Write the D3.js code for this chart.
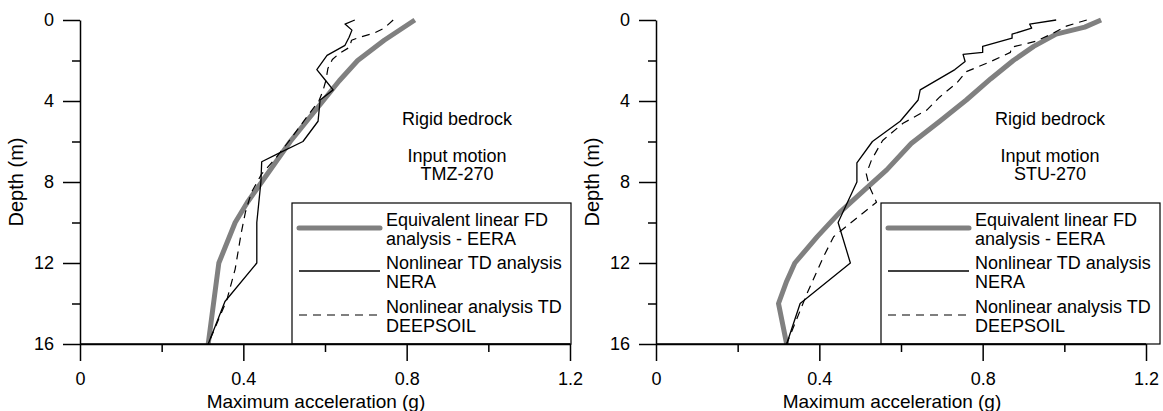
<!DOCTYPE html>
<html>
<head>
<meta charset="utf-8">
<script src="https://cdn.jsdelivr.net/npm/d3@7"></script>
<style>
  html, body { margin: 0; padding: 0; background: #fff; }
  svg { display: block; font-family: "Liberation Sans", Arial, sans-serif; }
</style>
</head>
<body>
<svg id="chart" width="1163" height="411"></svg>
<script>
// Axis ticks
const depthMajor = [0, 4, 8, 12, 16];
const depthMinor = [2, 6, 10, 14];
const accMajor = [0, 0.4, 0.8, 1.2];
const accMinor = [0.2, 0.6, 1.0];

// Text
const xTitle = "Maximum acceleration (g)";
const yTitle = "Depth (m)";
const noteBedrock = "Rigid bedrock";
const noteMotion = "Input motion";
const motions = ["TMZ-270", "STU-270"];
const legendLabels = [
  ["Equivalent linear FD", "analysis - EERA"],
  ["Nonlinear TD analysis", "NERA"],
  ["Nonlinear analysis TD", "DEEPSOIL"]
];

// TMZ-270 profiles: [acceleration (g), depth (m)]
const tmzEERA = [[0.82,0],[0.745,1],[0.68,2],[0.635,3],[0.595,4],[0.555,5],[0.515,6],[0.48,7],[0.445,8],[0.41,9],[0.38,10],[0.36,11],[0.34,12],[0.314,16]];
const tmzNERA = [[0.673,0],[0.649,0.2],[0.666,0.5],[0.659,0.85],[0.649,1.25],[0.605,1.75],[0.58,2.45],[0.60,2.95],[0.62,3.45],[0.588,3.95],[0.583,5.0],[0.546,6.0],[0.485,6.6],[0.445,7.0],[0.443,8.0],[0.433,10.0],[0.433,12.0],[0.355,13.9],[0.314,16]];
const tmzDEEPSOIL = [[0.767,0],[0.745,0.4],[0.72,0.65],[0.685,0.85],[0.665,1.0],[0.66,1.35],[0.635,1.65],[0.618,1.95],[0.607,2.4],[0.602,3.0],[0.595,3.5],[0.585,4.0],[0.555,4.8],[0.515,5.9],[0.48,6.8],[0.445,7.6],[0.42,8.5],[0.405,9.5],[0.395,10.5],[0.38,12.3],[0.36,13.8],[0.314,16]];

// STU-270 profiles: [acceleration (g), depth (m)]
const stuEERA = [[1.09,0],[1.05,0.35],[0.98,0.7],[0.925,1.3],[0.875,2.0],[0.82,2.9],[0.76,3.95],[0.695,5.0],[0.625,6.1],[0.565,7.4],[0.51,8.4],[0.45,9.5],[0.395,10.7],[0.34,12.0],[0.32,12.9],[0.30,14.0],[0.32,16]];
const stuNERA = [[0.98,0],[0.915,0.2],[0.92,0.4],[0.872,0.7],[0.872,0.9],[0.80,1.3],[0.80,1.6],[0.752,1.7],[0.757,2.05],[0.732,2.45],[0.647,3.45],[0.642,3.95],[0.598,5.0],[0.53,6.0],[0.492,7.05],[0.492,8.0],[0.446,10.0],[0.476,12.0],[0.353,14.0],[0.32,16]];
const stuDEEPSOIL = [[1.055,0],[1.005,0.3],[0.973,0.65],[0.93,1.05],[0.87,1.35],[0.868,1.6],[0.82,2.05],[0.76,2.55],[0.737,3.1],[0.695,3.8],[0.663,4.45],[0.605,5.1],[0.555,5.95],[0.528,6.9],[0.515,7.6],[0.522,8.2],[0.54,9.0],[0.435,10.7],[0.41,11.7],[0.37,13.5],[0.32,16]];

const styles = [
  { stroke: "#808080", width: 5, dash: null },
  { stroke: "#000", width: 1.3, dash: null },
  { stroke: "#000", width: 1.2, dash: "8,6" }
];

const panels = [
  { left: 80, series: [tmzEERA, tmzNERA, tmzDEEPSOIL], motion: motions[0], noteX: 377, legendX: 212 },
  { left: 656, series: [stuEERA, stuNERA, stuDEEPSOIL], motion: motions[1], noteX: 394, legendX: 225 }
];

const svg = d3.select("#chart");
const fontSize = 18;
const titleSize = 19;
const plotW = 490, plotTop = 20, plotBottom = 344;

panels.forEach(p => {
  const g = svg.append("g");
  const x = d3.scaleLinear().domain([0, 1.2]).range([p.left, p.left + plotW]);
  const y = d3.scaleLinear().domain([0, 16]).range([plotTop, plotBottom]);

  // profiles
  const line = d3.line().x(d => x(d[0])).y(d => y(d[1]));
  p.series.forEach((s, i) => {
    const st = styles[i];
    g.append("path").datum(s).attr("d", line)
      .attr("fill", "none").attr("stroke", st.stroke)
      .attr("stroke-width", st.width)
      .attr("stroke-linejoin", "round")
      .attr("stroke-dasharray", st.dash);
  });

  // y axis
  const yMinor = g.append("g").attr("transform", `translate(${p.left},0)`)
    .call(d3.axisLeft(y).tickValues(depthMinor).tickSize(8).tickFormat(""));
  const yMajor = g.append("g").attr("transform", `translate(${p.left},0)`)
    .call(d3.axisLeft(y).tickValues(depthMajor).tickSize(17).tickSizeOuter(0).tickPadding(9).tickFormat(d3.format("d")));
  // x axis
  const xMinor = g.append("g").attr("transform", `translate(0,${plotBottom})`)
    .call(d3.axisBottom(x).tickValues(accMinor).tickSize(8).tickFormat(""));
  const xMajor = g.append("g").attr("transform", `translate(0,${plotBottom})`)
    .call(d3.axisBottom(x).tickValues(accMajor).tickSize(17).tickSizeOuter(0).tickPadding(11)
      .tickFormat(d => d === 0 ? "0" : d3.format(".1f")(d)));
  [yMinor, yMajor, xMinor, xMajor].forEach(a => {
    a.select(".domain").attr("stroke-width", 1.5);
    a.selectAll(".tick line").attr("stroke-width", 1.5);
    a.selectAll("text").attr("font-size", fontSize).attr("font-family", "Liberation Sans, Arial, sans-serif").attr("fill", "#000");
  });
  yMinor.select(".domain").remove();
  xMinor.select(".domain").remove();

  // titles
  g.append("text").attr("x", p.left + 236).attr("y", 407.5)
    .attr("text-anchor", "middle").attr("font-size", titleSize).text(xTitle);
  g.append("text").attr("transform", `translate(${p.left - 57},${(plotTop + plotBottom) / 2}) rotate(-90)`)
    .attr("text-anchor", "middle").attr("font-size", 20).text(yTitle);

  // notes
  const cx = p.left + p.noteX;
  g.append("text").attr("x", cx).attr("y", 124.5).attr("text-anchor", "middle").attr("font-size", fontSize).text(noteBedrock);
  g.append("text").attr("x", cx).attr("y", 161.5).attr("text-anchor", "middle").attr("font-size", fontSize).text(noteMotion);
  g.append("text").attr("x", cx).attr("y", 179.5).attr("text-anchor", "middle").attr("font-size", fontSize).text(p.motion);

  // legend
  const lx = p.left + p.legendX;
  const lg = g.append("g");
  lg.append("rect").attr("x", lx).attr("y", 203).attr("width", 279).attr("height", plotBottom - 203)
    .attr("fill", "#fff").attr("stroke", "#000").attr("stroke-width", 1.2);
  const rows = [228, 271, 315];
  legendLabels.forEach((lab, i) => {
    const st = styles[i];
    lg.append("line").attr("x1", lx + 7).attr("x2", lx + 88)
      .attr("y1", rows[i]).attr("y2", rows[i])
      .attr("stroke", st.stroke).attr("stroke-width", st.width)
      .attr("stroke-linecap", i === 0 ? "round" : "butt")
      .attr("stroke-dasharray", st.dash);
    lab.forEach((t, j) => {
      lg.append("text").attr("x", lx + 94).attr("y", rows[i] - 2.5 + j * 19.5)
        .attr("font-size", fontSize).text(t);
    });
  });
  // axis baseline drawn again on top of the legend box
  g.append("line").attr("x1", p.left).attr("x2", p.left + plotW).attr("y1", plotBottom).attr("y2", plotBottom)
    .attr("stroke", "#000").attr("stroke-width", 1.5);
});
</script>
</body>
</html>
